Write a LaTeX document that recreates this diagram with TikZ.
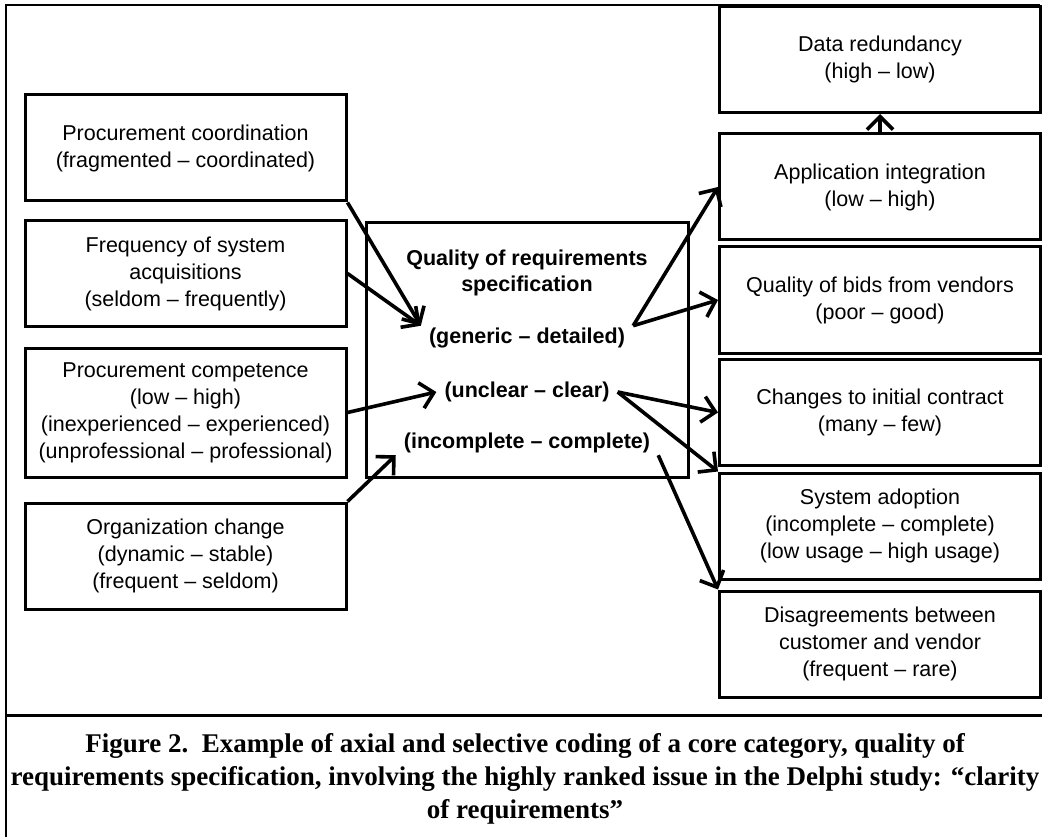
\documentclass[tikz,border=0pt]{standalone}
\usepackage{fontspec}
\newfontfamily\boxfont{Liberation Sans}
\newfontfamily\captfont{Liberation Serif}
\usetikzlibrary{arrows.meta}

\begin{document}
\begin{tikzpicture}[x=1pt, y=-1pt,
    box/.style={rectangle, draw, line width=3pt, minimum width=321pt, minimum height=106pt, align=center, inner sep=0pt, font=\boxfont\fontsize{21.5}{27}\selectfont},
    lbl/.style={inner xsep=8pt, inner ysep=2pt, font=\boxfont\bfseries\fontsize{21.5}{26}\selectfont},
    arr/.style={->, line width=3.6pt},
    >={Straight Barb[length=13pt, width=26pt]}
]
    \useasboundingbox (0,0) rectangle (1042,837);
    % frame
    \draw[line width=2.4pt] (6,837) -- (6,5);
    \draw[line width=1.8pt] (5,5) -- (1040,5);
    \draw[line width=3pt] (5,715) -- (1042,715);

    % left column
    \node[box] (pco) at (185.5,148) {Procurement coordination\\(fragmented – coordinated)};
    \node[box] (fsa) at (185.5,273.5) {Frequency of system\\acquisitions\\(seldom – frequently)};
    \node[box, minimum height=129pt] (pcm) at (185.5,412.5) {Procurement competence\\(low – high)\\(inexperienced – experienced)\\(unprofessional – professional)};
    \node[box] (orc) at (185.5,556) {Organization change\\(dynamic – stable)\\(frequent – seldom)};

    % core category
    \node[box, minimum width=322pt, minimum height=254pt] (qrs) at (527,350) {};
    \node[lbl, align=center] (qtl) at (527,273) {Quality of requirements\\specification};
    \node[lbl] (gen) at (527,338) {(generic – detailed)};
    \node[lbl] (unc) at (527,392) {(unclear – clear)};
    \node[lbl] (inc) at (527,443) {(incomplete – complete)};

    % right column
    \node[box] (dtr) at (880,59.5) {Data redundancy\\(high – low)};
    \node[box] (api) at (880,187) {Application integration\\(low – high)};
    \node[box] (qbv) at (880,300) {Quality of bids from vendors\\(poor – good)};
    \node[box] (cic) at (880,412.5) {Changes to initial contract\\(many – few)};
    \node[box] (sad) at (880,526) {System adoption\\(incomplete – complete)\\(low usage – high usage)};
    \node[box] (dcv) at (880,644) {Disagreements between\\customer and vendor\\(frequent – rare)};

    % connectors
    \draw[arr] (pco.south east) -- (gen.north west);
    \draw[arr] (fsa.east) -- (gen.north west);
    \draw[arr] (pcm.east) -- (unc.west);
    \draw[arr] (orc.north east) -- (inc.south west);
    \draw[arr] (gen.north east) -- (api.west);
    \draw[arr] (gen.north east) -- (qbv.west);
    \draw[arr] (unc.east) -- (cic.west);
    \draw[arr] (unc.east) -- (sad.north west);
    \draw[arr] (inc.south east) -- (dcv.north west);
    \draw[arr] (api.north) -- (dtr.south);

    % caption
    \node[font=\captfont\bfseries\fontsize{27}{33}\selectfont, align=center] (cpt) at (525,779) {Figure 2.\ \ Example of axial and selective coding of a core category, quality of\\requirements specification, involving the highly ranked issue in the Delphi study: “clarity\\of requirements”};
\end{tikzpicture}
\end{document}
